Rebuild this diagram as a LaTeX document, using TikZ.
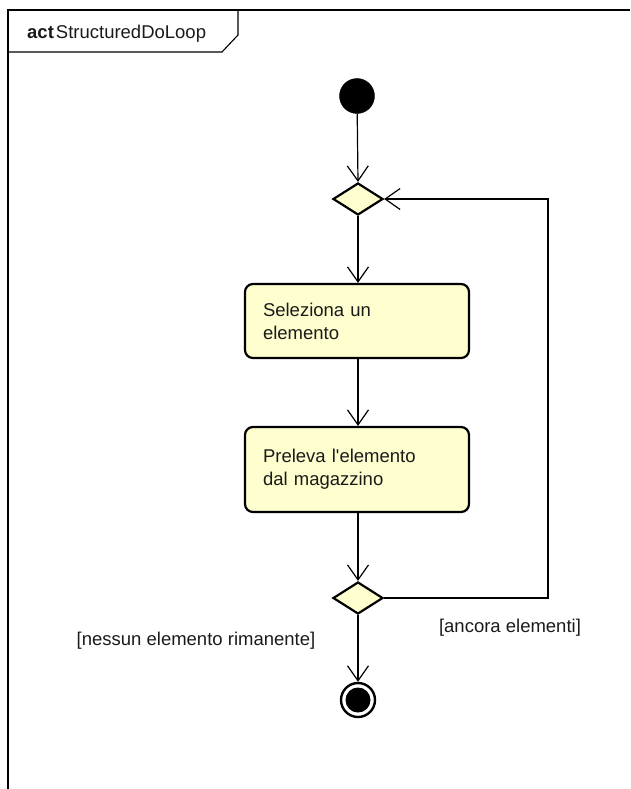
\documentclass[tikz,border=0pt]{standalone}
\usepackage{fontspec}
\setmainfont{Liberation Sans}[Ligatures=TeXOff]
\usetikzlibrary{shapes.geometric,arrows.meta}

\definecolor{actfill}{HTML}{FEFECE}
\definecolor{inkgray}{HTML}{1A1A1A}

\tikzset{
  flow/.style={draw=black, line width=1.2pt,
    -{Straight Barb[length=15pt,width=21pt,line width=1.2pt]}},
  startnode/.style={circle, fill=black, draw=black, minimum size=35pt, inner sep=0pt},
  endnode/.style={circle, draw=black, line width=2.4pt, fill=white,
    minimum size=34pt, inner sep=0pt,
    path picture={\fill[black] (path picture bounding box.center) circle (12.5pt);}},
  choice/.style={diamond, draw=black, line width=2.2pt, fill=actfill,
    minimum width=50pt, minimum height=32pt, inner sep=0pt},
  actionbox/.style={rectangle, rounded corners=8pt, draw=black, line width=2.2pt,
    fill=actfill, text width=188pt, inner xsep=18pt, inner ysep=0pt,
    minimum width=224pt, align=left, text=inkgray,
    font=\fontsize{18.5}{23}\selectfont},
  guard/.style={text=inkgray, font=\fontsize{18.5}{23}\selectfont, inner sep=0pt},
  frameline/.style={draw=black, line width=1.1pt}
}

\begin{document}
\begin{tikzpicture}[x=1pt,y=-1pt]
  \useasboundingbox (0,0) rectangle (630,789);

  % diagram frame with its name tab
  \draw[frameline] (8,789) -- (8,10) -- (630,10);
  \draw[frameline] (8,52) -- (222,52) -- (238,35) -- (238,10);
  \node[anchor=base west, inner sep=0pt, text=inkgray,
        font=\fontsize{18.5}{23}\selectfont] (title) at (27,39)
        {\textbf{act}\kern2pt StructuredDoLoop};

  % nodes
  \node[startnode] (init) at (357,96) {};
  \node[choice] (dec1) at (358,199) {};
  \node[actionbox, minimum height=74pt] (sel) at (357,321)
        {Seleziona un\\elemento};
  \node[actionbox, minimum height=85pt] (take) at (357,469.5)
        {Preleva l'elemento\\dal magazzino};
  \node[choice] (dec2) at (358,598) {};
  \node[endnode] (final) at (358,700) {};

  \coordinate (loopx) at (548,400);

  % connectors
  \draw[flow] (init) -- (dec1.north);
  \draw[flow] (dec1.south) -- (sel.north -| dec1.south);
  \draw[flow] (sel.south -| dec1.south) -- (take.north -| dec1.south);
  \draw[flow] (take.south -| dec2.north) -- (dec2.north);
  \draw[flow] (dec2.south) -- (final.north);
  \draw[flow] (dec2.east) -- (dec2.east -| loopx) -- (dec1.east -| loopx) -- (dec1.east);

  % guards
  \node[guard] (gnone) at (196,641) {[nessun elemento rimanente]};
  \node[guard] (gmore) at (510,628) {[ancora elementi]};
\end{tikzpicture}
\end{document}
